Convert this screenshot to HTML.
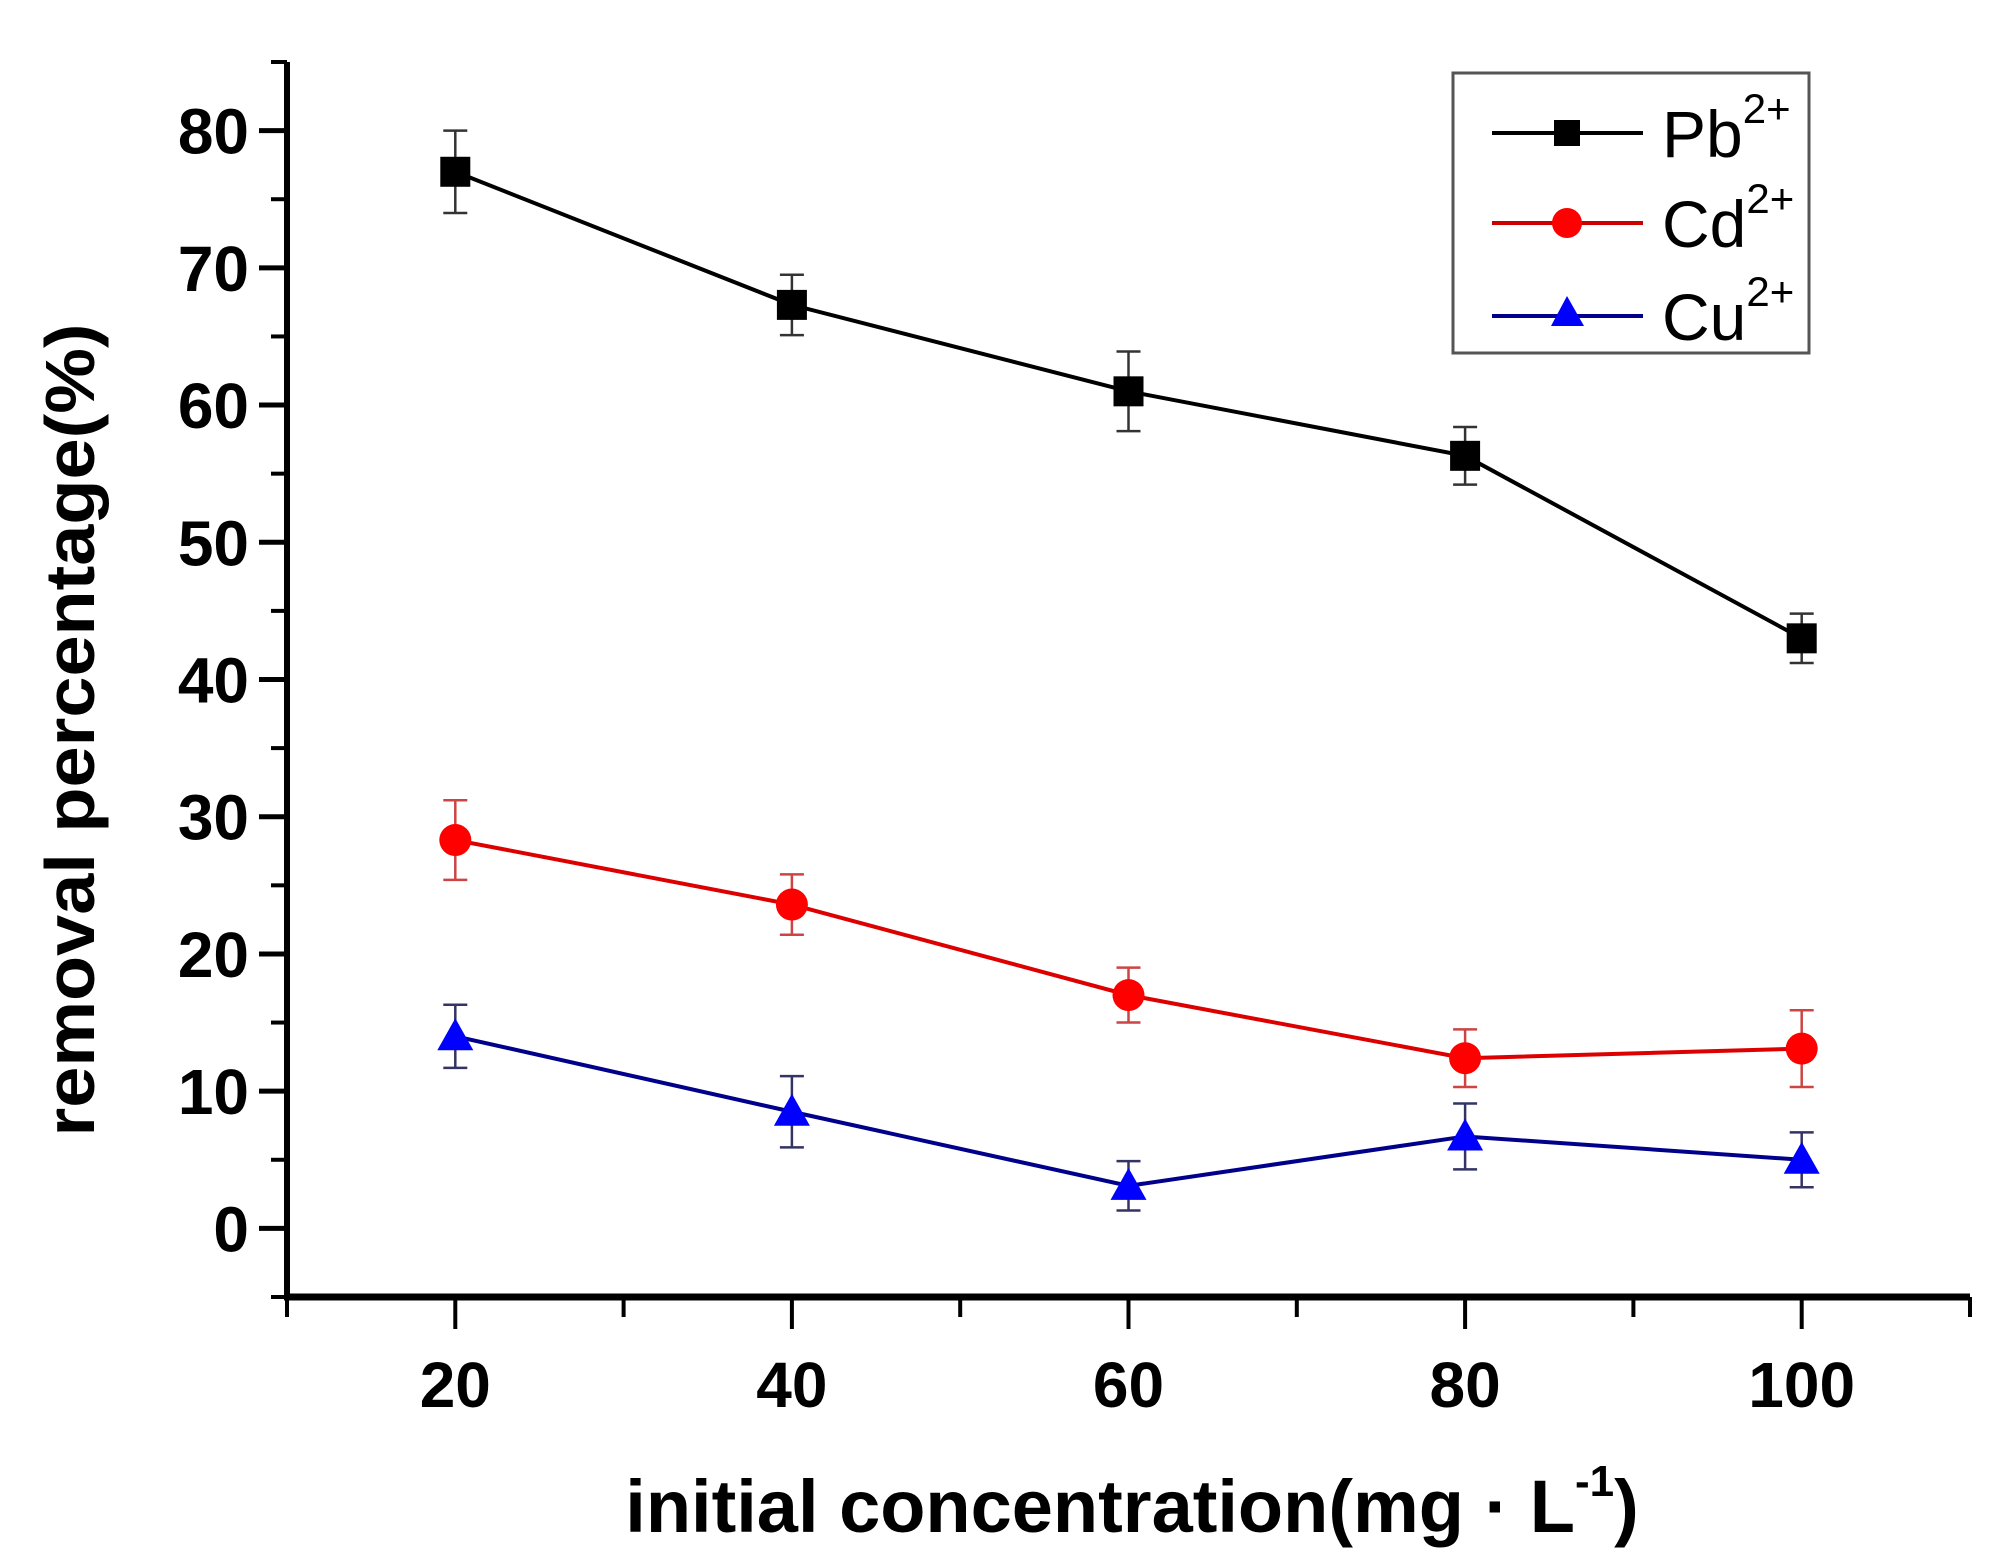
<!DOCTYPE html>
<html><head><meta charset="utf-8"><style>
html,body{margin:0;padding:0;background:#fff;}
svg{display:block;font-family:"Liberation Sans",Arial,sans-serif;}
</style></head><body>
<svg id="chart" width="2014" height="1563" viewBox="0 0 2014 1563" xmlns="http://www.w3.org/2000/svg">
<g id="axes"></g>
<g id="series"></g>
<g id="legend">
  <rect x="1453" y="73" width="356" height="280" fill="#fff" stroke="#555" stroke-width="3"/>
  <g>
    <line x1="1492" y1="133" x2="1643" y2="133" stroke="#000" stroke-width="4"/>
    <rect x="1554" y="120" width="26" height="26" fill="#000"/>
    <text x="1662" y="157" font-size="66">Pb<tspan font-size="42" dy="-34">2+</tspan></text>
  </g>
  <g>
    <line x1="1492" y1="223" x2="1643" y2="223" stroke="#c00" stroke-width="4"/>
    <circle cx="1567" cy="223" r="15" fill="#f00"/>
    <text x="1662" y="247" font-size="66">Cd<tspan font-size="42" dy="-34">2+</tspan></text>
  </g>
  <g>
    <line x1="1492" y1="316" x2="1643" y2="316" stroke="#00008b" stroke-width="4"/>
    <polygon points="1567,296 1551,326 1584,326" fill="#00f"/>
    <text x="1662" y="340" font-size="66">Cu<tspan font-size="42" dy="-34">2+</tspan></text>
  </g>
</g>
<text x="1132" y="1532" font-size="74" font-weight="bold" text-anchor="middle">initial concentration(mg · L<tspan font-size="44" dy="-36">-1</tspan><tspan dy="36">)</tspan></text>
<text transform="translate(94,730) rotate(-90)" font-size="70" font-weight="bold" text-anchor="middle" textLength="813" lengthAdjust="spacingAndGlyphs">removal percentage(%)</text>
<script>
const categories=[20,40,60,80,100];
const pbValues=[77,67.3,61,56.3,43];
const pbErrors=[3,2.2,2.9,2.1,1.8];
const cdValues=[28.3,23.6,17,12.4,13.1];
const cdErrors=[2.9,2.2,2,2.1,2.8];
const cuValues=[14,8.5,3.1,6.7,5];
const cuErrors=[2.3,2.6,1.8,2.4,2];
const xTicks=[20,40,60,80,100];
const yTicks=[0,10,20,30,40,50,60,70,80];
const L=287,R=1970,T=62,B=1297,xMin=10,xMax=110,yMin=-5,yMax=85;
const X=v=>L+(v-xMin)/(xMax-xMin)*(R-L);
const Y=v=>B-(v-yMin)/(yMax-yMin)*(B-T);
const NS='http://www.w3.org/2000/svg';
function mk(tag,attrs,parent){const e=document.createElementNS(NS,tag);for(const k in attrs)e.setAttribute(k,attrs[k]);parent.appendChild(e);return e;}
const ax=document.getElementById('axes');
let e=mk('line',{x1:L,y1:T,x2:L,y2:B+3,stroke:'#000','stroke-width':6},ax);


e=mk('line',{x1:L-3,y1:B,x2:R,y2:B,stroke:'#000','stroke-width':7},ax);


for(let v=10;v<=110;v+=10){
  const major=xTicks.includes(v);
  e=mk('line',{x1:X(v),y1:B,x2:X(v),y2:B+(major?32:20),stroke:'#000','stroke-width':4},ax);
  
  
}
xTicks.forEach(v=>{
  e=mk('text',{x:X(v),y:B+110,'font-size':64,'font-weight':'bold','text-anchor':'middle'},ax);
  e.textContent=v;
  
  
});
for(let v=-5;v<=85;v+=10){
  e=mk('line',{x1:L-16,y1:Y(v),x2:L,y2:Y(v),stroke:'#000','stroke-width':4},ax);
  
  
}
yTicks.forEach(v=>{
  e=mk('line',{x1:L-28,y1:Y(v),x2:L,y2:Y(v),stroke:'#000','stroke-width':5},ax);
  
  
  e=mk('text',{x:L-38,y:Y(v)+23,'font-size':64,'font-weight':'bold','text-anchor':'end'},ax);
  e.textContent=v;
  
  
});
const sg=document.getElementById('series');
function drawSeries(name,vals,errs,lineColor,errColor,marker){
  const g=mk('g',{},sg);
  
  
  const pts=categories.map((c,i)=>X(c)+','+Y(vals[i])).join(' ');
  e=mk('polyline',{points:pts,fill:'none',stroke:lineColor,'stroke-width':4},g);
  
  
  categories.forEach((c,i)=>{
    const x=X(c),y1=Y(vals[i]+errs[i]),y2=Y(vals[i]-errs[i]);
    e=mk('path',{d:`M${x},${y1}V${y2}M${x-12},${y1}H${x+12}M${x-12},${y2}H${x+12}`,stroke:errColor,'stroke-width':2.5,fill:'none'},g);
    
    
    const y=Y(vals[i]);
    if(marker==='square')e=mk('rect',{x:x-15,y:y-15,width:30,height:30,fill:'#000'},g);
    else if(marker==='circle')e=mk('circle',{cx:x,cy:y,r:16,fill:'#f00'},g);
    else e=mk('polygon',{points:`${x},${y-18} ${x-18},${y+14} ${x+18},${y+14}`,fill:'#00f'},g);
    
    
  });
}
drawSeries('pb',pbValues,pbErrors,'#000','#333','square');
drawSeries('cd',cdValues,cdErrors,'#d00','#c44','circle');
drawSeries('cu',cuValues,cuErrors,'#00008b','#336','triangle');
</script>
</svg>
</body></html>
